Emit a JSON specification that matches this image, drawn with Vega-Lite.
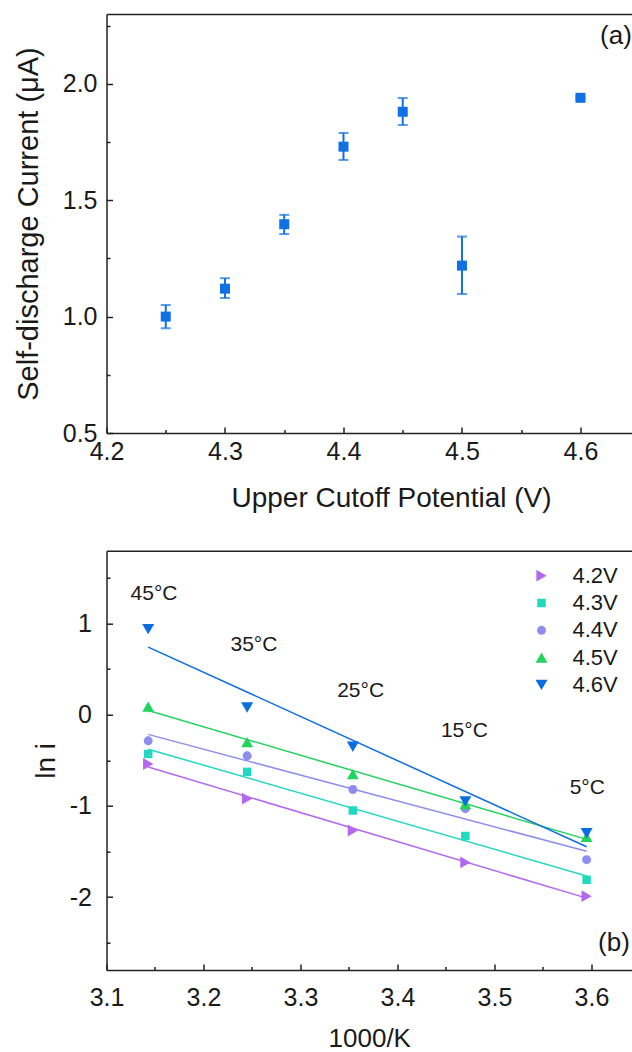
{
  "$schema": "https://vega.github.io/schema/vega-lite/v6.json",
  "background": "white",
  "padding": {"left": 13.5, "top": 13, "right": 0, "bottom": 0},
  "spacing": 117.7,
  "bounds": "flush",
  "resolve": {"scale": {"color": "independent", "shape": "independent", "size": "independent"}, "legend": {"color": "independent", "shape": "independent", "size": "independent"}},
  "config": {
    "view": {"stroke": null},
    "font": "Liberation Sans",
    "axis": {
      "grid": false,
      "domainColor": "#222222",
      "domainWidth": 1.5,
      "tickColor": "#222222",
      "tickWidth": 1.5,
      "labelFont": "Liberation Sans",
      "labelColor": "#1a1a1a",
      "labelFontSize": 25,
      "titleFont": "Liberation Sans",
      "titleFontWeight": "normal",
      "titleColor": "#1a1a1a",
      "titleFontSize": 28,
      "labelOverlap": false,
      "labelBound": false,
      "labelFlush": false
    },
    "legend": {
      "labelFontSize": 22,
      "labelFont": "Liberation Sans",
      "labelColor": "#1a1a1a",
      "rowPadding": 5.3,
      "labelOffset": 20
    }
  },
  "vconcat": [
    {
      "width": 525.5,
      "height": 419,
      "data": {
        "values": [
          {"V": 4.25, "I": 1.0, "lo": 0.95, "hi": 1.05},
          {"V": 4.3, "I": 1.12, "lo": 1.08, "hi": 1.165},
          {"V": 4.35, "I": 1.397, "lo": 1.355, "hi": 1.437},
          {"V": 4.4, "I": 1.73, "lo": 1.673, "hi": 1.789},
          {"V": 4.45, "I": 1.88, "lo": 1.823, "hi": 1.939},
          {"V": 4.5, "I": 1.219, "lo": 1.097, "hi": 1.344},
          {"V": 4.6, "I": 1.94, "lo": 1.935, "hi": 1.945}
        ]
      },
      "layer": [
        {
          "mark": {"type": "errorbar", "color": "#1170e4", "thickness": 2, "size": 10, "ticks": true},
          "encoding": {
            "x": {"field": "V", "type": "quantitative", "scale": {"domain": [4.2, 4.6435], "nice": false, "zero": false}, "axis": null},
            "y": {
              "field": "lo", "type": "quantitative",
              "scale": {"domain": [0.5, 2.3], "nice": false, "zero": false},
              "axis": {
                "values": [0.5, 0.75, 1, 1.25, 1.5, 1.75, 2, 2.25],
                "labelExpr": "round(datum.value*100) % 50 == 0 ? format(datum.value, '.1f') : ''",
                "tickSize": {"condition": {"test": "round(datum.value*100) % 50 != 0", "value": -3.5}, "value": -6},
                "labelPadding": 15.5,
                "title": "Self-discharge Current (μA)",
                "titleFontSize": 29,
                "titlePadding": 19
              }
            },
            "y2": {"field": "hi"}
          }
        },
        {
          "mark": {"type": "point", "shape": "square", "filled": true, "size": 100, "color": "#1170e4", "opacity": 1},
          "encoding": {
            "x": {
              "field": "V", "type": "quantitative",
              "scale": {"domain": [4.2, 4.6435], "nice": false, "zero": false},
              "axis": {
                "orient": "bottom",
                "values": [4.2, 4.25, 4.3, 4.35, 4.4, 4.45, 4.5, 4.55, 4.6],
                "labelExpr": "round(datum.value*100) % 10 == 0 ? format(datum.value, '.1f') : ''",
                "tickSize": {"condition": {"test": "round(datum.value*100) % 10 != 0", "value": -3.5}, "value": -6},
                "labelPadding": 12,
                "title": "Upper Cutoff Potential (V)",
                "titlePadding": 18,
                "titleX": 284.5
              }
            },
            "y": {
              "field": "I", "type": "quantitative",
              "scale": {"domain": [0.5, 2.3], "nice": false, "zero": false},
              "axis": {
                "values": [0.5, 0.75, 1, 1.25, 1.5, 1.75, 2, 2.25],
                "labelExpr": "round(datum.value*100) % 50 == 0 ? format(datum.value, '.1f') : ''",
                "tickSize": {"condition": {"test": "round(datum.value*100) % 50 != 0", "value": -3.5}, "value": -6},
                "labelPadding": 15.5,
                "title": "Self-discharge Current (μA)",
                "titleFontSize": 29,
                "titlePadding": 19
              }
            }
          }
        },
        {
          "data": {"values": [{"lab": "(a)", "V": 4.6165, "I": 2.205}]},
          "mark": {"type": "text", "align": "left", "baseline": "middle", "fontSize": 26, "font": "Liberation Sans", "color": "#1a1a1a"},
          "encoding": {
            "x": {"field": "V", "type": "quantitative", "scale": {"domain": [4.2, 4.6435], "nice": false, "zero": false}, "axis": {"orient": "top", "ticks": false, "labels": false, "title": null, "domain": true}},
            "y": {
              "field": "I", "type": "quantitative",
              "scale": {"domain": [0.5, 2.3], "nice": false, "zero": false},
              "axis": {
                "values": [0.5, 0.75, 1, 1.25, 1.5, 1.75, 2, 2.25],
                "labelExpr": "round(datum.value*100) % 50 == 0 ? format(datum.value, '.1f') : ''",
                "tickSize": {"condition": {"test": "round(datum.value*100) % 50 != 0", "value": -3.5}, "value": -6},
                "labelPadding": 15.5,
                "title": "Self-discharge Current (μA)",
                "titleFontSize": 29,
                "titlePadding": 19
              }
            },
            "text": {"field": "lab"}
          }
        }
      ],
      "resolve": {"axis": {"x": "independent"}}
    },
    {
      "width": 525.5,
      "height": 419.3,
      "layer": [
        {
          "data": {
            "values": [
              {"S": "4.2V", "x": 3.143, "y": -0.54}, {"S": "4.2V", "x": 3.245, "y": -0.92}, {"S": "4.2V", "x": 3.354, "y": -1.27}, {"S": "4.2V", "x": 3.47, "y": -1.62}, {"S": "4.2V", "x": 3.595, "y": -1.99},
              {"S": "4.3V", "x": 3.143, "y": -0.43}, {"S": "4.3V", "x": 3.245, "y": -0.626}, {"S": "4.3V", "x": 3.354, "y": -1.05}, {"S": "4.3V", "x": 3.47, "y": -1.33}, {"S": "4.3V", "x": 3.595, "y": -1.81},
              {"S": "4.4V", "x": 3.143, "y": -0.286}, {"S": "4.4V", "x": 3.245, "y": -0.45}, {"S": "4.4V", "x": 3.354, "y": -0.82}, {"S": "4.4V", "x": 3.47, "y": -1.03}, {"S": "4.4V", "x": 3.595, "y": -1.59},
              {"S": "4.5V", "x": 3.143, "y": 0.09}, {"S": "4.5V", "x": 3.245, "y": -0.3}, {"S": "4.5V", "x": 3.354, "y": -0.65}, {"S": "4.5V", "x": 3.47, "y": -0.98}, {"S": "4.5V", "x": 3.595, "y": -1.34},
              {"S": "4.6V", "x": 3.143, "y": 0.94}, {"S": "4.6V", "x": 3.245, "y": 0.08}, {"S": "4.6V", "x": 3.354, "y": -0.35}, {"S": "4.6V", "x": 3.47, "y": -0.95}, {"S": "4.6V", "x": 3.595, "y": -1.3}
            ]
          },
          "transform": [{"regression": "y", "on": "x", "groupby": ["S"]}],
          "mark": {"type": "line", "strokeWidth": 1.5},
          "encoding": {
            "x": {"field": "x", "type": "quantitative", "scale": {"domain": [3.1, 3.6418], "nice": false, "zero": false}, "axis": null},
            "y": {
              "field": "y", "type": "quantitative",
              "scale": {"domain": [-2.8, 1.8], "nice": false, "zero": false},
              "axis": {
                "values": [-2.5, -2, -1.5, -1, -0.5, 0, 0.5, 1, 1.5],
                "labelExpr": "datum.value % 1 == 0 ? '' + datum.value : ''",
                "tickSize": {"condition": {"test": "datum.value % 1 != 0", "value": -3.5}, "value": -6},
                "labelPadding": 21,
                "title": "ln i",
                "titlePadding": 9
              }
            },
            "stroke": {"field": "S", "type": "nominal", "scale": {"domain": ["4.2V", "4.3V", "4.4V", "4.5V", "4.6V"], "range": ["#b468f0", "#22d8c0", "#8e8cef", "#20d45c", "#0b6ee0"]}, "legend": null}
          }
        },
        {
          "data": {
            "values": [
              {"V": "4.2V", "x": 3.143, "y": -0.54}, {"V": "4.2V", "x": 3.245, "y": -0.92}, {"V": "4.2V", "x": 3.354, "y": -1.27}, {"V": "4.2V", "x": 3.47, "y": -1.62}, {"V": "4.2V", "x": 3.595, "y": -1.99},
              {"V": "4.3V", "x": 3.143, "y": -0.43}, {"V": "4.3V", "x": 3.245, "y": -0.626}, {"V": "4.3V", "x": 3.354, "y": -1.05}, {"V": "4.3V", "x": 3.47, "y": -1.33}, {"V": "4.3V", "x": 3.595, "y": -1.81},
              {"V": "4.4V", "x": 3.143, "y": -0.286}, {"V": "4.4V", "x": 3.245, "y": -0.45}, {"V": "4.4V", "x": 3.354, "y": -0.82}, {"V": "4.4V", "x": 3.47, "y": -1.03}, {"V": "4.4V", "x": 3.595, "y": -1.59},
              {"V": "4.5V", "x": 3.143, "y": 0.09}, {"V": "4.5V", "x": 3.245, "y": -0.3}, {"V": "4.5V", "x": 3.354, "y": -0.65}, {"V": "4.5V", "x": 3.47, "y": -0.98}, {"V": "4.5V", "x": 3.595, "y": -1.34},
              {"V": "4.6V", "x": 3.143, "y": 0.94}, {"V": "4.6V", "x": 3.245, "y": 0.08}, {"V": "4.6V", "x": 3.354, "y": -0.35}, {"V": "4.6V", "x": 3.47, "y": -0.95}, {"V": "4.6V", "x": 3.595, "y": -1.3}
            ]
          },
          "mark": {"type": "point", "filled": true, "opacity": 1},
          "encoding": {
            "x": {
              "field": "x", "type": "quantitative",
              "scale": {"domain": [3.1, 3.6418], "nice": false, "zero": false},
              "axis": {
                "orient": "bottom",
                "values": [3.1, 3.15, 3.2, 3.25, 3.3, 3.35, 3.4, 3.45, 3.5, 3.55, 3.6],
                "labelExpr": "round(datum.value*100) % 10 == 0 ? format(datum.value, '.1f') : ''",
                "tickSize": {"condition": {"test": "round(datum.value*100) % 10 != 0", "value": -3.5}, "value": -6},
                "labelPadding": 21.5,
                "title": "1000/K",
                "titleFontSize": 26,
                "titlePadding": 12
              }
            },
            "y": {
              "field": "y", "type": "quantitative",
              "scale": {"domain": [-2.8, 1.8], "nice": false, "zero": false},
              "axis": {
                "values": [-2.5, -2, -1.5, -1, -0.5, 0, 0.5, 1, 1.5],
                "labelExpr": "datum.value % 1 == 0 ? '' + datum.value : ''",
                "tickSize": {"condition": {"test": "datum.value % 1 != 0", "value": -3.5}, "value": -6},
                "labelPadding": 21,
                "title": "ln i",
                "titlePadding": 9
              }
            },
            "color": {
              "field": "V", "type": "nominal",
              "scale": {"domain": ["4.2V", "4.3V", "4.4V", "4.5V", "4.6V"], "range": ["#b468f0", "#22d8c0", "#8e8cef", "#20d45c", "#0b6ee0"]},
              "legend": {"orient": "top-right", "offset": 14, "title": null}
            },
            "shape": {
              "field": "V", "type": "nominal",
              "scale": {"domain": ["4.2V", "4.3V", "4.4V", "4.5V", "4.6V"], "range": ["triangle-right", "square", "circle", "triangle-up", "triangle-down"]},
              "legend": {"orient": "top-right", "offset": 14, "title": null}
            },
            "size": {
              "field": "V", "type": "nominal",
              "scale": {"type": "ordinal", "domain": ["4.2V", "4.3V", "4.4V", "4.5V", "4.6V"], "range": [140, 72, 80, 140, 145]},
              "legend": {"orient": "top-right", "offset": 14, "title": null}
            }
          }
        },
        {
          "data": {
            "values": [
              {"t": "45°C", "x": 3.149, "y": 1.32},
              {"t": "35°C", "x": 3.252, "y": 0.767},
              {"t": "25°C", "x": 3.362, "y": 0.264},
              {"t": "15°C", "x": 3.469, "y": -0.18},
              {"t": "5°C", "x": 3.5957, "y": -0.8}
            ]
          },
          "mark": {"type": "text", "align": "center", "baseline": "middle", "fontSize": 21, "font": "Liberation Sans", "color": "#1a1a1a"},
          "encoding": {
            "x": {"field": "x", "type": "quantitative", "scale": {"domain": [3.1, 3.6418], "nice": false, "zero": false}, "axis": {"orient": "top", "ticks": false, "labels": false, "title": null, "domain": true}},
            "y": {
              "field": "y", "type": "quantitative",
              "scale": {"domain": [-2.8, 1.8], "nice": false, "zero": false},
              "axis": {
                "values": [-2.5, -2, -1.5, -1, -0.5, 0, 0.5, 1, 1.5],
                "labelExpr": "datum.value % 1 == 0 ? '' + datum.value : ''",
                "tickSize": {"condition": {"test": "datum.value % 1 != 0", "value": -3.5}, "value": -6},
                "labelPadding": 21,
                "title": "ln i",
                "titlePadding": 9
              }
            },
            "text": {"field": "t"}
          }
        },
        {
          "data": {"values": [{"t": "(b)", "x": 3.6068, "y": -2.5}]},
          "mark": {"type": "text", "align": "left", "baseline": "middle", "fontSize": 26, "font": "Liberation Sans", "color": "#1a1a1a"},
          "encoding": {
            "x": {"field": "x", "type": "quantitative", "scale": {"domain": [3.1, 3.6418], "nice": false, "zero": false}, "axis": null},
            "y": {
              "field": "y", "type": "quantitative",
              "scale": {"domain": [-2.8, 1.8], "nice": false, "zero": false},
              "axis": {
                "values": [-2.5, -2, -1.5, -1, -0.5, 0, 0.5, 1, 1.5],
                "labelExpr": "datum.value % 1 == 0 ? '' + datum.value : ''",
                "tickSize": {"condition": {"test": "datum.value % 1 != 0", "value": -3.5}, "value": -6},
                "labelPadding": 21,
                "title": "ln i",
                "titlePadding": 9
              }
            },
            "text": {"field": "t"}
          }
        }
      ],
      "resolve": {"axis": {"x": "independent"}}
    }
  ]
}
